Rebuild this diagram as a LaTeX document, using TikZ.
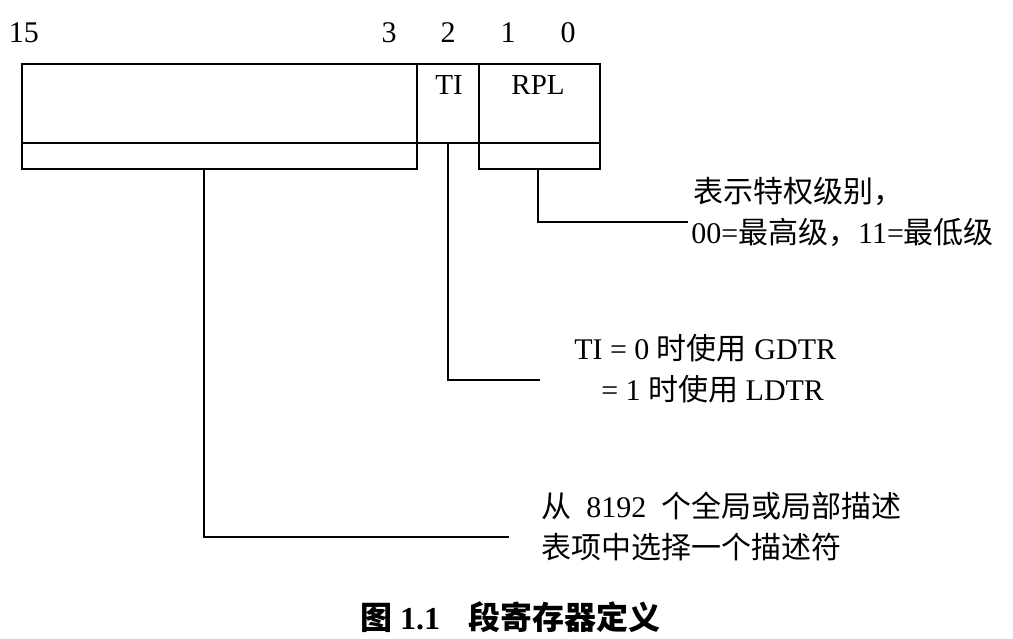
\documentclass[tikz,border=0pt]{standalone}
\usepackage{fontspec}
\setmainfont{Liberation Serif}
\newfontfamily\cjk{Noto Sans CJK SC}
\newcommand{\zh}[1]{{\cjk #1}}

\begin{document}
\begin{tikzpicture}[x=1pt, y=-1pt, line width=2.5pt, every node/.style={inner sep=0pt, font=\fontsize{30}{41}\selectfont}]
		\useasboundingbox (0,0) rectangle (1013,639);

		% bit numbers
		\node (b15) at (24,33) {15};
		\node (b3) at (389,33) {3};
		\node (b2) at (448,33) {2};
		\node (b1) at (508,33) {1};
		\node (b0) at (568,33) {0};

		% selector register
		\draw[-] (22,64) rectangle (600,143);
		\draw[-] (22,143) rectangle (417,169);
		\draw[-] (479,143) rectangle (600,169);
		\draw[-] (417,64) to (417,169);
		\draw[-] (479,64) to (479,169);
		\node (ti) at (449,85) [font=\fontsize{29}{35}\selectfont] {TI};
		\node (rpl) at (538,85) [font=\fontsize{29}{35}\selectfont] {RPL};

		% explanations
		\node (rpltxt) at (690,212) [anchor=west, align=left] {\hspace*{2pt}\zh{表示特权级别，}\\00=\zh{最高级，}11=\zh{最低级}};
		\node (titxt) at (573,369) [anchor=west, align=left] {TI = 0 \zh{时使用} GDTR\\\hspace*{27pt}= 1 \zh{时使用} LDTR};
		\node (idxtxt) at (540,526) [anchor=west, align=left] {\zh{从}\ \ 8192\ \ \zh{个全局或局部描述}\\\zh{表项中选择一个描述符}};

		\coordinate (rpltop) at (538,169);
		\coordinate (rplend) at (688,222);
		\coordinate (titop) at (448,143);
		\coordinate (tiend) at (540,380);
		\coordinate (idxtop) at (204,169);
		\coordinate (idxend) at (509,537);
		\draw[-] (rpltop) |- (rplend);
		\draw[-] (titop) |- (tiend);
		\draw[-] (idxtop) |- (idxend);

		\node (cap) at (510,617) [font=\fontsize{32}{38}\selectfont\bfseries] {\zh{图} 1.1\hspace{28pt}\zh{段寄存器定义}};
\end{tikzpicture}
\end{document}
